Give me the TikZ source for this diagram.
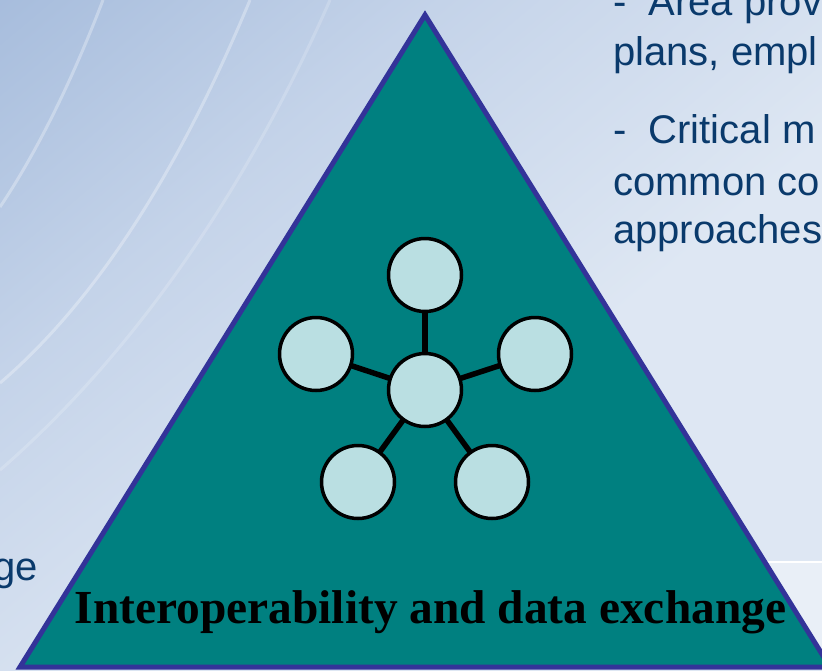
\documentclass[tikz,border=0pt]{standalone}
\usepackage{fontspec}
\setmainfont{Liberation Serif}
\newfontfamily\slidefont{Liberation Sans}
\definecolor{bgA}{RGB}{145,172,211}
\definecolor{bgM}{RGB}{196,211,233}
\definecolor{bgB}{RGB}{222,231,243}
\definecolor{tealfill}{RGB}{0,128,128}
\definecolor{triedge}{RGB}{51,51,153}
\definecolor{nodefill}{RGB}{186,223,226}
\definecolor{slidetext}{RGB}{10,58,108}
\pgfdeclareverticalshading{bgshade}{100bp}{color(0bp)=(bgB); color(42bp)=(bgB); color(66bp)=(bgM); color(100bp)=(bgA)}
\tikzset{
  netnode/.style={circle, draw=black, line width=3.5pt, fill=nodefill, minimum size=73pt, inner sep=0pt},
  netlink/.style={line width=5.5pt, black},
  slideline/.style={font=\slidefont\fontsize{40}{50}\selectfont, text=slidetext, anchor=base west, inner sep=0pt},
  swoosh/.style={white, opacity=0.3, line width=3pt}
}
\begin{document}
\begin{tikzpicture}[x=1pt,y=-1pt]
\useasboundingbox (0,0) rectangle (822,670);
\clip (0,0) rectangle (822,670);
% background
\shade[shading=bgshade, shading angle=40] (0,0) rectangle (822,670);
\draw[swoosh] (103,0) .. controls (80,60) and (45,140) .. (0,207);
\draw[swoosh] (250,0) .. controls (200,120) and (120,280) .. (0,383);
\draw[swoosh, opacity=0.18] (330,0) .. controls (260,160) and (150,340) .. (0,470);
\fill[white, opacity=0.35] (700,563) rectangle (822,670);
\draw[white, line width=2pt] (700,562) -- (822,562);
% triangle
\coordinate (apex) at (425,15);
\coordinate (bl) at (20,667);
\coordinate (br) at (830,667);
\filldraw[fill=tealfill, draw=triedge, line width=5pt, line join=miter] (apex) -- (bl) -- (br) -- cycle;
% network
\coordinate (c) at (425,390);
\coordinate (t) at (425,275);
\coordinate (l) at (316,354);
\coordinate (r) at (535,354);
\coordinate (bl2) at (358,482);
\coordinate (br2) at (492,482);
\foreach \n in {t,l,r,bl2,br2} \draw[netlink] (c) -- (\n);
\node[netnode] (nc) at (c) {};
\node[netnode] (nt) at (t) {};
\node[netnode] (nl) at (l) {};
\node[netnode] (nr) at (r) {};
\node[netnode] (nbl) at (bl2) {};
\node[netnode] (nbr) at (br2) {};
% title
\node[anchor=base, inner sep=0pt, font=\bfseries\fontsize{47.4}{57}\selectfont] (title) at (430.5,623) {Interoperability and data exchange};
% slide text
\node[slideline] (s1) at (613,15) {-\ \ Area prov};
\node[slideline] (s2) at (613,65) {plans, empl};
\node[slideline] (s3) at (613,143) {-\ \ Critical m};
\node[slideline] (s4) at (613,195) {common co};
\node[slideline] (s5) at (613,243) {approaches};
\node[slideline, anchor=base east] (s6) at (38,580) {ge};
\end{tikzpicture}
\end{document}
